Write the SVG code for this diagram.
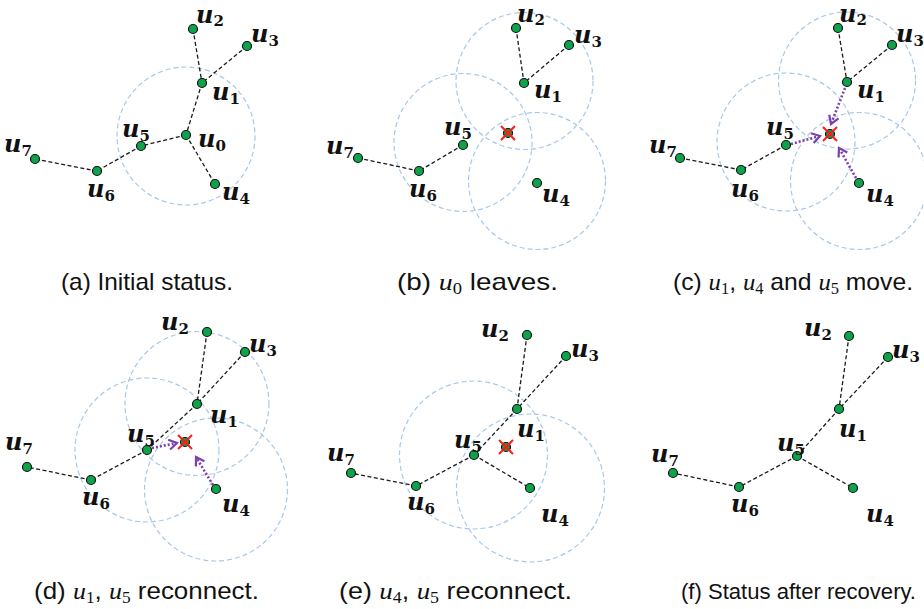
<svg xmlns="http://www.w3.org/2000/svg" width="924" height="609" viewBox="0 0 924 609">
<defs>
<style>
.edge{stroke:#1a1a1a;stroke-width:1.3;stroke-dasharray:4 2.5;fill:none}
.range{stroke:#a9c8e8;stroke-width:1.2;stroke-dasharray:5 3;fill:none}
.node{fill:#0da34a;stroke:#111;stroke-width:1.2}
.lbl{font-family:"DejaVu Serif",serif;font-weight:bold;font-style:italic;font-size:24px;fill:#111}
.sub{font-style:normal;font-size:15px}
.mv{stroke:#7a3fb0;stroke-width:2.6;stroke-dasharray:2 2;fill:none;marker-end:url(#chev)}
.xm{stroke:#ff1a1a;stroke-width:2}
.cap{font-family:"Liberation Sans",Arial,sans-serif;font-size:24px;fill:#111}
.m{font-family:"Liberation Serif","Times New Roman",serif;font-style:italic}
.ms{font-family:"Liberation Serif","Times New Roman",serif;font-style:normal;font-size:16px}
</style>
<marker id="chev" markerUnits="userSpaceOnUse" markerWidth="14" markerHeight="14" refX="10" refY="6" orient="auto">
<path d="M2,1 L10,6 L2,11" fill="none" stroke="#7a3fb0" stroke-width="2.2"/>
</marker>
</defs>
<rect width="924" height="609" fill="#fff"/>

<!-- Panel (a) -->
<g id="panel-a">
<circle class="range" cx="186" cy="136" r="69"/>
<g id="a-connectors">
<line class="edge" x1="193" y1="29" x2="202" y2="83"/>
<line class="edge" x1="247" y1="46" x2="202" y2="83"/>
<line class="edge" x1="202" y1="83" x2="186" y2="135"/>
<line class="edge" x1="186" y1="135" x2="141" y2="146"/>
<line class="edge" x1="186" y1="135" x2="215" y2="184"/>
<line class="edge" x1="141" y1="146" x2="97" y2="171"/>
<line class="edge" x1="97" y1="171" x2="35" y2="159"/>
</g>
<g id="a-u0"><circle class="node" cx="186" cy="135" r="4.5"/><text class="lbl" x="198" y="147">u<tspan class="sub" dy="4">0</tspan></text></g>
<g id="a-u1"><circle class="node" cx="202" cy="83" r="4.5"/><text class="lbl" x="212" y="100">u<tspan class="sub" dy="4">1</tspan></text></g>
<g id="a-u2"><circle class="node" cx="193" cy="29" r="4.5"/><text class="lbl" x="196" y="23">u<tspan class="sub" dy="3">2</tspan></text></g>
<g id="a-u3"><circle class="node" cx="247" cy="46" r="4.5"/><text class="lbl" x="251" y="42">u<tspan class="sub" dy="4">3</tspan></text></g>
<g id="a-u4"><circle class="node" cx="215" cy="184" r="4.5"/><text class="lbl" x="222" y="200">u<tspan class="sub" dy="4">4</tspan></text></g>
<g id="a-u5"><circle class="node" cx="141" cy="146" r="4.5"/><text class="lbl" x="122" y="137">u<tspan class="sub" dy="4">5</tspan></text></g>
<g id="a-u6"><circle class="node" cx="97" cy="171" r="4.5"/><text class="lbl" x="87" y="197">u<tspan class="sub" dy="4">6</tspan></text></g>
<g id="a-u7"><circle class="node" cx="35" cy="159" r="4.5"/><text class="lbl" x="4" y="152">u<tspan class="sub" dy="4">7</tspan></text></g>
</g>

<!-- Panel (b) -->
<g id="panel-b">
<circle class="range" cx="524.5" cy="81" r="68.5"/>
<circle class="range" cx="463" cy="142.5" r="69"/>
<circle class="range" cx="537" cy="181" r="68.5"/>
<g id="b-connectors">
<line class="edge" x1="516" y1="28" x2="524" y2="83"/>
<line class="edge" x1="569" y1="45" x2="524" y2="83"/>
<line class="edge" x1="463" y1="145" x2="419" y2="171"/>
<line class="edge" x1="419" y1="171" x2="358" y2="158"/>
</g>
<g id="b-u0"><circle class="node" cx="508" cy="133" r="4.5"/><line class="xm" x1="501" y1="126" x2="515" y2="140"/><line class="xm" x1="515" y1="126" x2="501" y2="140"/></g>
<g id="b-u1"><circle class="node" cx="524" cy="83" r="4.5"/><text class="lbl" x="534" y="98">u<tspan class="sub" dy="4">1</tspan></text></g>
<g id="b-u2"><circle class="node" cx="516" cy="28" r="4.5"/><text class="lbl" x="517" y="22">u<tspan class="sub" dy="3">2</tspan></text></g>
<g id="b-u3"><circle class="node" cx="569" cy="45" r="4.5"/><text class="lbl" x="574" y="43">u<tspan class="sub" dy="4">3</tspan></text></g>
<g id="b-u4"><circle class="node" cx="537" cy="183" r="4.5"/><text class="lbl" x="542" y="202">u<tspan class="sub" dy="4">4</tspan></text></g>
<g id="b-u5"><circle class="node" cx="463" cy="145" r="4.5"/><text class="lbl" x="444" y="135">u<tspan class="sub" dy="4">5</tspan></text></g>
<g id="b-u6"><circle class="node" cx="419" cy="171" r="4.5"/><text class="lbl" x="409" y="197">u<tspan class="sub" dy="4">6</tspan></text></g>
<g id="b-u7"><circle class="node" cx="358" cy="158" r="4.5"/><text class="lbl" x="326" y="154">u<tspan class="sub" dy="4">7</tspan></text></g>
</g>

<!-- Panel (c) -->
<g id="panel-c">
<circle class="range" cx="847" cy="80.5" r="68.5"/>
<circle class="range" cx="786" cy="142" r="69"/>
<circle class="range" cx="859" cy="181" r="68.5"/>
<g id="c-connectors">
<line class="edge" x1="838" y1="28" x2="847" y2="82"/>
<line class="edge" x1="892" y1="45" x2="847" y2="82"/>
<line class="edge" x1="786" y1="145" x2="741" y2="170"/>
<line class="edge" x1="741" y1="170" x2="680" y2="158"/>
<path class="mv" d="M845,88 L831,124"/>
<path class="mv" d="M791,144 L820,136"/>
<path class="mv" d="M856,178 L839,148"/>
</g>
<g id="c-u0"><circle class="node" cx="830" cy="134" r="4.5"/><line class="xm" x1="823" y1="127" x2="837" y2="141"/><line class="xm" x1="837" y1="127" x2="823" y2="141"/></g>
<g id="c-u1"><circle class="node" cx="847" cy="82" r="4.5"/><text class="lbl" x="857" y="98">u<tspan class="sub" dy="4">1</tspan></text></g>
<g id="c-u2"><circle class="node" cx="838" cy="28" r="4.5"/><text class="lbl" x="839" y="22">u<tspan class="sub" dy="3">2</tspan></text></g>
<g id="c-u3"><circle class="node" cx="892" cy="45" r="4.5"/><text class="lbl" x="896" y="42">u<tspan class="sub" dy="4">3</tspan></text></g>
<g id="c-u4"><circle class="node" cx="859" cy="183" r="4.5"/><text class="lbl" x="866" y="202">u<tspan class="sub" dy="4">4</tspan></text></g>
<g id="c-u5"><circle class="node" cx="786" cy="145" r="4.5"/><text class="lbl" x="766" y="135">u<tspan class="sub" dy="4">5</tspan></text></g>
<g id="c-u6"><circle class="node" cx="741" cy="170" r="4.5"/><text class="lbl" x="731" y="197">u<tspan class="sub" dy="4">6</tspan></text></g>
<g id="c-u7"><circle class="node" cx="680" cy="158" r="4.5"/><text class="lbl" x="649" y="153">u<tspan class="sub" dy="4">7</tspan></text></g>
</g>

<!-- Panel (d) -->
<g id="panel-d">
<circle class="range" cx="197" cy="403.5" r="72"/>
<circle class="range" cx="147" cy="450" r="72"/>
<circle class="range" cx="216" cy="489.5" r="71.5"/>
<g id="d-connectors">
<line class="edge" x1="207" y1="332" x2="197" y2="404"/>
<line class="edge" x1="245" y1="352" x2="197" y2="404"/>
<line class="edge" x1="197" y1="404" x2="147" y2="450"/>
<line class="edge" x1="147" y1="450" x2="91" y2="480"/>
<line class="edge" x1="91" y1="480" x2="27" y2="467"/>
<path class="mv" d="M152,448 L177,443"/>
<path class="mv" d="M213,485 L196,457"/>
</g>
<g id="d-u0"><circle class="node" cx="185" cy="442" r="4.5"/><line class="xm" x1="178" y1="435" x2="192" y2="449"/><line class="xm" x1="192" y1="435" x2="178" y2="449"/></g>
<g id="d-u1"><circle class="node" cx="197" cy="404" r="4.5"/><text class="lbl" x="210" y="423">u<tspan class="sub" dy="4">1</tspan></text></g>
<g id="d-u2"><circle class="node" cx="207" cy="332" r="4.5"/><text class="lbl" x="161" y="330">u<tspan class="sub" dy="4">2</tspan></text></g>
<g id="d-u3"><circle class="node" cx="245" cy="352" r="4.5"/><text class="lbl" x="249" y="352">u<tspan class="sub" dy="4">3</tspan></text></g>
<g id="d-u4"><circle class="node" cx="216" cy="489" r="4.5"/><text class="lbl" x="222" y="512">u<tspan class="sub" dy="4">4</tspan></text></g>
<g id="d-u5"><circle class="node" cx="147" cy="450" r="4.5"/><text class="lbl" x="127" y="442">u<tspan class="sub" dy="4">5</tspan></text></g>
<g id="d-u6"><circle class="node" cx="91" cy="480" r="4.5"/><text class="lbl" x="82" y="505">u<tspan class="sub" dy="4">6</tspan></text></g>
<g id="d-u7"><circle class="node" cx="27" cy="467" r="4.5"/><text class="lbl" x="5" y="450">u<tspan class="sub" dy="4">7</tspan></text></g>
</g>

<!-- Panel (e) -->
<g id="panel-e">
<circle class="range" cx="473.5" cy="455" r="74"/>
<circle class="range" cx="530.5" cy="488" r="74"/>
<g id="e-connectors">
<line class="edge" x1="527" y1="335" x2="517" y2="409"/>
<line class="edge" x1="566" y1="356" x2="517" y2="409"/>
<line class="edge" x1="517" y1="409" x2="474" y2="455"/>
<line class="edge" x1="474" y1="455" x2="530" y2="488"/>
<line class="edge" x1="474" y1="455" x2="416" y2="486"/>
<line class="edge" x1="416" y1="486" x2="351" y2="473"/>
</g>
<g id="e-u0"><circle class="node" cx="506" cy="447" r="4.5"/><line class="xm" x1="499" y1="440" x2="513" y2="454"/><line class="xm" x1="513" y1="440" x2="499" y2="454"/></g>
<g id="e-u1"><circle class="node" cx="517" cy="409" r="4.5"/><text class="lbl" x="517" y="437">u<tspan class="sub" dy="4">1</tspan></text></g>
<g id="e-u2"><circle class="node" cx="527" cy="335" r="4.5"/><text class="lbl" x="481" y="337">u<tspan class="sub" dy="4">2</tspan></text></g>
<g id="e-u3"><circle class="node" cx="566" cy="356" r="4.5"/><text class="lbl" x="571" y="357">u<tspan class="sub" dy="4">3</tspan></text></g>
<g id="e-u4"><circle class="node" cx="530" cy="488" r="4.5"/><text class="lbl" x="541" y="522">u<tspan class="sub" dy="4">4</tspan></text></g>
<g id="e-u5"><circle class="node" cx="474" cy="455" r="4.5"/><text class="lbl" x="454" y="448">u<tspan class="sub" dy="4">5</tspan></text></g>
<g id="e-u6"><circle class="node" cx="416" cy="486" r="4.5"/><text class="lbl" x="407" y="510">u<tspan class="sub" dy="4">6</tspan></text></g>
<g id="e-u7"><circle class="node" cx="351" cy="473" r="4.5"/><text class="lbl" x="327" y="461">u<tspan class="sub" dy="4">7</tspan></text></g>
</g>

<!-- Panel (f) -->
<g id="panel-f">
<g id="f-connectors">
<line class="edge" x1="849" y1="336" x2="839" y2="409"/>
<line class="edge" x1="888" y1="357" x2="839" y2="409"/>
<line class="edge" x1="839" y1="409" x2="797" y2="456"/>
<line class="edge" x1="797" y1="456" x2="853" y2="488"/>
<line class="edge" x1="797" y1="456" x2="739" y2="487"/>
<line class="edge" x1="739" y1="487" x2="673" y2="473"/>
</g>
<g id="f-u1"><circle class="node" cx="839" cy="409" r="4.5"/><text class="lbl" x="839" y="437">u<tspan class="sub" dy="4">1</tspan></text></g>
<g id="f-u2"><circle class="node" cx="849" cy="336" r="4.5"/><text class="lbl" x="804" y="336">u<tspan class="sub" dy="4">2</tspan></text></g>
<g id="f-u3"><circle class="node" cx="888" cy="357" r="4.5"/><text class="lbl" x="892" y="358">u<tspan class="sub" dy="4">3</tspan></text></g>
<g id="f-u4"><circle class="node" cx="853" cy="488" r="4.5"/><text class="lbl" x="866" y="522">u<tspan class="sub" dy="4">4</tspan></text></g>
<g id="f-u5"><circle class="node" cx="797" cy="456" r="4.5"/><text class="lbl" x="777" y="451">u<tspan class="sub" dy="4">5</tspan></text></g>
<g id="f-u6"><circle class="node" cx="739" cy="487" r="4.5"/><text class="lbl" x="731" y="512">u<tspan class="sub" dy="4">6</tspan></text></g>
<g id="f-u7"><circle class="node" cx="673" cy="473" r="4.5"/><text class="lbl" x="651" y="462">u<tspan class="sub" dy="4">7</tspan></text></g>
</g>

<!-- Captions -->
<g id="captions">
<text class="cap" x="61" y="290" textLength="172" lengthAdjust="spacingAndGlyphs">(a) Initial status.</text>
<text class="cap" x="397" y="290" textLength="161" lengthAdjust="spacingAndGlyphs">(b) <tspan class="m">u</tspan><tspan class="ms" dy="4">0</tspan><tspan dy="-4"> leaves.</tspan></text>
<text class="cap" x="673" y="290" textLength="240" lengthAdjust="spacingAndGlyphs">(c) <tspan class="m">u</tspan><tspan class="ms" dy="4">1</tspan><tspan dy="-4">, </tspan><tspan class="m">u</tspan><tspan class="ms" dy="4">4</tspan><tspan dy="-4"> and </tspan><tspan class="m">u</tspan><tspan class="ms" dy="4">5</tspan><tspan dy="-4"> move.</tspan></text>
<text class="cap" x="34" y="599" textLength="225" lengthAdjust="spacingAndGlyphs">(d) <tspan class="m">u</tspan><tspan class="ms" dy="4">1</tspan><tspan dy="-4">, </tspan><tspan class="m">u</tspan><tspan class="ms" dy="4">5</tspan><tspan dy="-4"> reconnect.</tspan></text>
<text class="cap" x="339" y="599" textLength="233" lengthAdjust="spacingAndGlyphs">(e) <tspan class="m">u</tspan><tspan class="ms" dy="4">4</tspan><tspan dy="-4">, </tspan><tspan class="m">u</tspan><tspan class="ms" dy="4">5</tspan><tspan dy="-4"> reconnect.</tspan></text>
<text class="cap" x="681" y="599" style="font-size:22.5px" textLength="235" lengthAdjust="spacingAndGlyphs">(f) Status after recovery.</text>
</g>
</svg>
